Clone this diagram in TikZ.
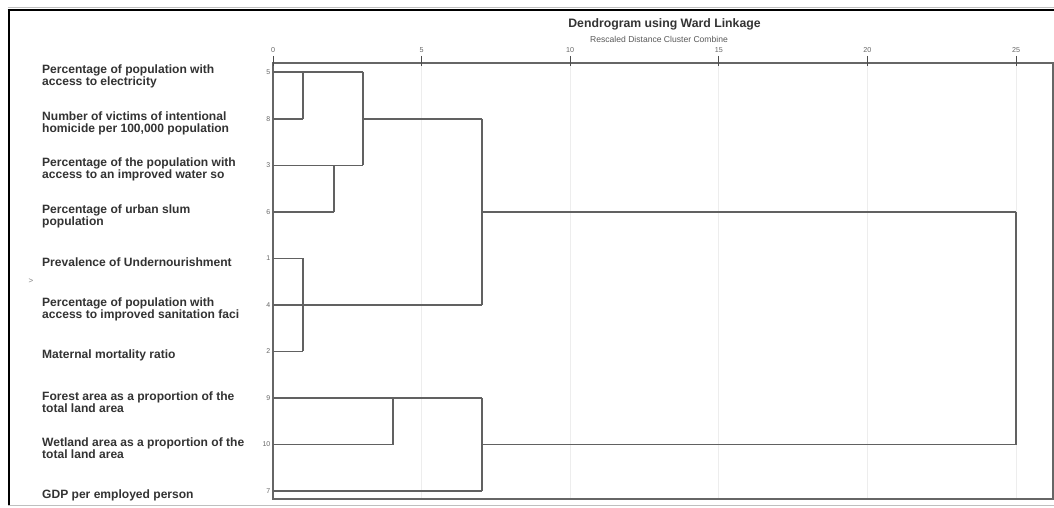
\documentclass[tikz,border=0pt]{standalone}
\usepackage{fontspec}
\setmainfont{Liberation Sans}
\begin{document}
\begin{tikzpicture}[x=1bp,y=-1bp,
  link/.style={draw=black!62,line width=1.3bp},
  axisline/.style={draw=black!60,line width=1.1bp},
  grid/.style={draw=black!7,line width=0.8bp},
  tickmark/.style={draw=black!70,line width=0.9bp},
  ticklab/.style={font=\fontsize{7.2}{8}\selectfont,text=black!60,inner sep=0pt},
  caselab/.style={font=\fontsize{7}{8}\selectfont,text=black!60,inner sep=0pt,anchor=east},
  varlab/.style={font=\fontsize{12.1}{12}\selectfont\bfseries,text=black!80,align=left,anchor=west,inner sep=0pt}]
\useasboundingbox (0,0) rectangle (1054,508);
\fill[white] (0,0) rectangle (1054,508);
% outer frame
\draw[black!25,line width=0.8bp] (8,7.5) -- (1054,7.5);
\draw[black,line width=2.6bp] (7.5,10) -- (1054,10);
\draw[black,line width=2bp] (8.5,9) -- (8.5,505);
\draw[black!25,line width=1bp] (8,505.5) -- (1054,505.5);
% title
\node[font=\fontsize{12.3}{13}\selectfont\bfseries,text=black!80] (title) at (664.5,24) {Dendrogram using Ward Linkage};
\node[font=\fontsize{8.6}{9}\selectfont,text=black!65] (subtitle) at (659,39) {Rescaled Distance Cluster Combine};
% grid lines
\foreach \k in {1,...,5}{
  \draw[grid] (273+148.6*\k,66) -- (273+148.6*\k,499);
}
% axes box
\coordinate (ax0) at (273,63);
\coordinate (ax1) at (1053,63);
\coordinate (ax2) at (1053,499);
\coordinate (ax3) at (273,499);
\draw[axisline] (ax0) -- (ax1) -- (ax2) -- (ax3) -- cycle;
% ticks
\foreach \k/\lab in {0/0,1/5,2/10,3/15,4/20,5/25}{
  \draw[tickmark] (273+148.6*\k,56) -- (273+148.6*\k,66);
  \node[ticklab] (tick\k) at (273+148.6*\k,50.5) {\lab};
}
% leaves
\foreach \n/\y in {5/72,8/119,3/165.5,6/212,1/258.5,4/305,2/351.5,9/398,10/444.5,7/491}{
  \coordinate (L\n) at (273,\y);
  \node[caselab] (n\n) at (270.5,\y) {\n};
}
% variable labels
\node[varlab] (v5) at (42,76) {Percentage of population with\\access to electricity};
\node[varlab] (v8) at (42,123) {Number of victims of intentional\\homicide per 100,000 population};
\node[varlab] (v3) at (42,169.5) {Percentage of the population with\\access to an improved water so};
\node[varlab] (v6) at (42,216) {Percentage of urban slum\\population};
\node[varlab] (v1) at (42,262) {Prevalence of Undernourishment};
\node[varlab] (v4) at (42,309) {Percentage of population with\\access to improved sanitation faci};
\node[varlab] (v2) at (42,355) {Maternal mortality ratio};
\node[varlab] (v9) at (42,402) {Forest area as a proportion of the\\total land area};
\node[varlab] (v10) at (42,448.5) {Wetland area as a proportion of the\\total land area};
\node[varlab] (v7) at (42,495) {GDP per employed person};
\node[font=\fontsize{8}{8}\selectfont,text=black!50,inner sep=0pt] (mark) at (31,281) {>};
% merge coordinates
\coordinate (c1t) at (303,72);   \coordinate (c1b) at (303,119);
\coordinate (c2t) at (334,165.5); \coordinate (c2b) at (334,212);
\coordinate (c3t) at (363,72);   \coordinate (c3b) at (363,165.5); \coordinate (c3m) at (363,119);
\coordinate (c4t) at (303,258.5); \coordinate (c4b) at (303,351.5);
\coordinate (c5t) at (482,119);  \coordinate (c5b) at (482,305);  \coordinate (c5m) at (482,212);
\coordinate (c6t) at (393,398);  \coordinate (c6b) at (393,444.5);
\coordinate (c8t) at (482,398);  \coordinate (c8b) at (482,491);  \coordinate (c8m) at (482,444.5);
\coordinate (c7t) at (1016,212); \coordinate (c7b) at (1016,444.5);
% links
\draw[link] (L5) -- (c3t);
\draw[link] (L8) -- (c1b);
\draw[link] (c1t) -- (c1b);
\draw[link] (L3) -- (c3b);
\draw[link] (L6) -- (c2b);
\draw[link] (c2t) -- (c2b);
\draw[link] (c3t) -- (c3b);
\draw[link] (c3m) -- (c5t);
\draw[link] (L1) -- (c4t);
\draw[link] (L4) -- (c5b);
\draw[link] (L2) -- (c4b);
\draw[link] (c4t) -- (c4b);
\draw[link] (c5t) -- (c5b);
\draw[link] (c5m) -- (c7t);
\draw[link] (L9) -- (c8t);
\draw[link] (L10) -- (c6b);
\draw[link] (c6t) -- (c6b);
\draw[link] (L7) -- (c8b);
\draw[link] (c8t) -- (c8b);
\draw[link] (c8m) -- (c7b);
\draw[link] (c7t) -- (c7b);
\end{tikzpicture}
\end{document}
